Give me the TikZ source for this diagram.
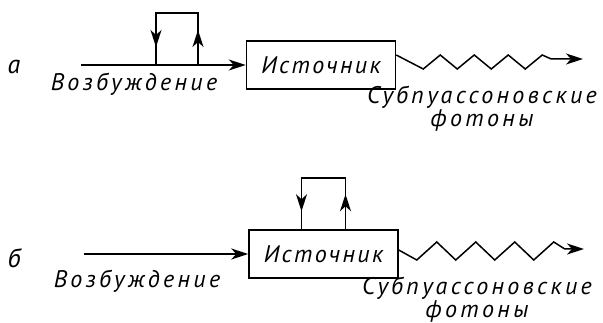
\documentclass[tikz,border=0pt]{standalone}
\usepackage{fontspec}
\setmainfont{PT Sans}
\usetikzlibrary{arrows.meta,positioning,decorations.markings}

\begin{document}
\begin{tikzpicture}[
  x=1pt, y=-1pt,
  line width=1.5pt,
  >={Stealth[length=17pt,width=11pt,inset=5pt]},
  % source box
  srcbox/.style={draw, minimum width=149pt, minimum height=48pt,
                 inner sep=0pt, font=\itshape\fontsize{24}{24}\selectfont\addfontfeatures{LetterSpace=10}},
  % hand-lettered labels
  lbl/.style={inner sep=0pt, align=center,
              font=\itshape\fontsize{24}{20}\selectfont\addfontfeatures{LetterSpace=14}},
  % part letters
  part/.style={inner sep=0pt, font=\itshape\fontsize{26}{26}\selectfont},
  % emitted photons
  photon/.style={->, line join=miter},
  % feedback branch, arrows halfway up and halfway down
  feedback/.style={decoration={markings,
                   mark=at position 35pt with {\arrow{>}},
                   mark=at position 128pt with {\arrow{>}}},
                   postaction={decorate}},
]
\useasboundingbox (0,0) rectangle (603,323);

%% --- a ------------------------------------------------------------------
\node[part] (partA) at (14,67) {а};
\node[srcbox] (srcA) at (321,65) {Источник};
\coordinate (exA) at (81,65);
\coordinate (tipA) at (583,59);
\coordinate (fbA1) at (156,65);
\coordinate (fbA2) at (198,65);

\draw[->] (exA) -- (srcA.west);
\draw[feedback] (fbA2) -- ++(0,-52) -| (fbA1);
\draw[photon] ([yshift=10pt]srcA.east) -- ++(27,14)
  foreach \i in {1,2,3} { -- ++(17,-14) -- ++(17,14) }
  -- ++(17,-14) -- ++(9,4) -- (tipA);

\node[lbl] (excA) at (134,84) {Возбуждение};
\node[lbl] (phA) at (482,109) {Субпуассоновские\\фотоны};

%% --- b ------------------------------------------------------------------
\node[part] (partB) at (14,258) {б};
\node[srcbox] (srcB) at (323.5,254) {Источник};
\coordinate (exB) at (84,254);
\coordinate (tipB) at (584,249);
\coordinate (fbB1) at ([xshift=-22pt]srcB.north);
\coordinate (fbB2) at ([xshift=22pt]srcB.north);

\draw[->] (exB) -- (srcB.west);
\draw[feedback] (fbB2) -- ++(0,-51) -| (fbB1);
\draw[photon] ([yshift=4pt]srcB.east) -- ++(18,10)
  foreach \i in {1,2,3} { -- ++(20,-18) -- ++(19,18) }
  -- ++(20,-18) -- ++(11,7) -- (tipB);

\node[lbl] (excB) at (137,281) {Возбуждение};
\node[lbl] (phB) at (477,300) {Субпуассоновские\\фотоны};

\end{tikzpicture}
\end{document}
